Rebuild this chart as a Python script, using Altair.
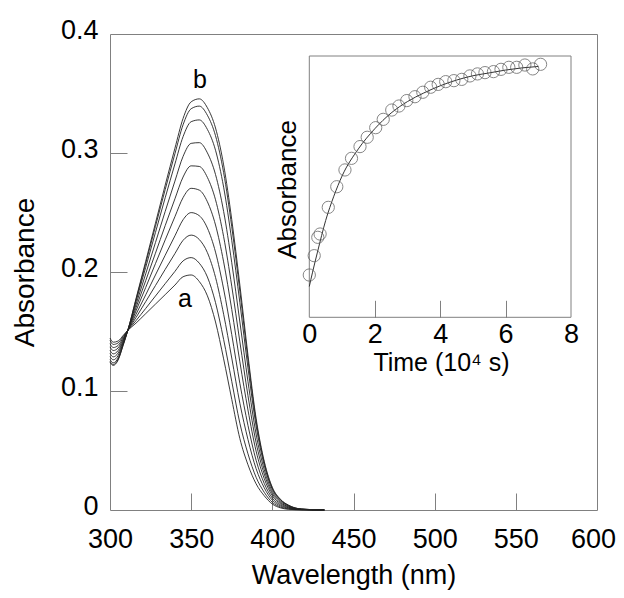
import altair as alt
import pandas as pd

# ---------------- main spectra ----------------
wavelength = [300, 302, 305, 308, 311, 316, 322, 328, 334, 340, 345, 350, 355,
              360, 365, 370, 375, 380, 385, 390, 395, 400, 405, 410, 418, 432]

s0 = [0.1445, 0.1410, 0.1420, 0.1465, 0.1510, 0.1570, 0.1650, 0.1730, 0.1810, 0.1890, 0.1960, 0.1975, 0.1920,
      0.1800, 0.1580, 0.1270, 0.0930, 0.0600, 0.0380, 0.0220, 0.0120, 0.0050, 0.0018, 0.0006, 0.0001, 0.0]
s1 = [0.1425, 0.1391, 0.1404, 0.1457, 0.1510, 0.1591, 0.1694, 0.1798, 0.1902, 0.2005, 0.2093, 0.2121, 0.2074,
      0.1958, 0.1743, 0.1433, 0.1081, 0.0729, 0.0472, 0.0275, 0.0149, 0.0064, 0.0025, 0.0009, 0.0002, 0.0]
s2 = [0.1398, 0.1365, 0.1383, 0.1445, 0.1510, 0.1617, 0.1751, 0.1886, 0.2022, 0.2155, 0.2266, 0.2310, 0.2273,
      0.2163, 0.1955, 0.1645, 0.1277, 0.0897, 0.0592, 0.0347, 0.0187, 0.0082, 0.0035, 0.0014, 0.0003, 0.0]
s3 = [0.1371, 0.1340, 0.1362, 0.1434, 0.1510, 0.1644, 0.1808, 0.1975, 0.2141, 0.2304, 0.2439, 0.2499, 0.2473,
      0.2369, 0.2167, 0.1857, 0.1474, 0.1064, 0.0711, 0.0418, 0.0224, 0.0100, 0.0044, 0.0018, 0.0004, 0.0]
s4 = [0.1342, 0.1312, 0.1340, 0.1422, 0.1510, 0.1673, 0.1870, 0.2070, 0.2270, 0.2465, 0.2625, 0.2703, 0.2688,
      0.2590, 0.2395, 0.2085, 0.1685, 0.1245, 0.0840, 0.0495, 0.0265, 0.0120, 0.0054, 0.0023, 0.0005, 0.0]
s5 = [0.1316, 0.1287, 0.1319, 0.1411, 0.1510, 0.1699, 0.1927, 0.2158, 0.2390, 0.2615, 0.2798, 0.2892, 0.2887,
      0.2795, 0.2607, 0.2297, 0.1881, 0.1413, 0.0960, 0.0567, 0.0303, 0.0138, 0.0063, 0.0027, 0.0005, 0.0]
s6 = [0.1289, 0.1262, 0.1298, 0.1400, 0.1510, 0.1726, 0.1984, 0.2247, 0.2509, 0.2764, 0.2971, 0.3081, 0.3087,
      0.3001, 0.2819, 0.2509, 0.2078, 0.1580, 0.1079, 0.0638, 0.0340, 0.0156, 0.0073, 0.0032, 0.0006, 0.0]
s7 = [0.1264, 0.1237, 0.1278, 0.1390, 0.1510, 0.1751, 0.2039, 0.2332, 0.2624, 0.2908, 0.3137, 0.3263, 0.3278,
      0.3198, 0.3023, 0.2713, 0.2266, 0.1742, 0.1194, 0.0707, 0.0377, 0.0174, 0.0082, 0.0036, 0.0007, 0.0]
s8 = [0.1248, 0.1223, 0.1266, 0.1383, 0.1510, 0.1767, 0.2072, 0.2383, 0.2693, 0.2994, 0.3237, 0.3372, 0.3394,
      0.3317, 0.3145, 0.2835, 0.2380, 0.1838, 0.1263, 0.0748, 0.0398, 0.0184, 0.0087, 0.0039, 0.0008, 0.0]
s9 = [0.1240, 0.1215, 0.1260, 0.1380, 0.1510, 0.1775, 0.2090, 0.2410, 0.2730, 0.3040, 0.3290, 0.3430, 0.3455,
      0.3380, 0.3210, 0.2900, 0.2440, 0.1890, 0.1300, 0.0770, 0.0410, 0.0190, 0.0090, 0.0040, 0.0008, 0.0]
spectra = [s0, s1, s2, s3, s4, s5, s6, s7, s8, s9]

label_text = ["a", "b"]
label_wl = [346.2, 355.4]
label_abs = [0.1706, 0.3546]

x_label_values = [300, 350, 400, 450, 500, 550, 600]
x_inner_ticks = [350, 400, 450, 500, 550]
y_label_values = [0, 0.1, 0.2, 0.3, 0.4]
y_inner_ticks = [0.1, 0.2, 0.3]

# ---------------- inset kinetics ----------------
time_pts = [0.0, 0.15, 0.26, 0.33, 0.58, 0.84, 1.09, 1.29, 1.55, 1.77, 2.03, 2.26, 2.52, 2.74, 2.98,
            3.23, 3.47, 3.71, 3.94, 4.17, 4.42, 4.66, 4.91, 5.14, 5.37, 5.63, 5.86, 6.10, 6.34, 6.59, 6.83, 7.07]
abs_pts = [0.198, 0.2115, 0.2243, 0.2266, 0.2452, 0.2596, 0.2713, 0.2794, 0.2876, 0.2941, 0.3008, 0.3066,
           0.3131, 0.3159, 0.3197, 0.3224, 0.3255, 0.3290, 0.3310, 0.3329, 0.3336, 0.3345, 0.3369, 0.3383,
           0.3392, 0.3399, 0.3415, 0.3429, 0.3429, 0.3445, 0.3418, 0.3450]
fit_t = [0, 0.1, 0.25, 0.5, 0.75, 1.0, 1.5, 2.0, 2.5, 3.0, 3.5, 4.0, 4.5, 5.0, 5.5, 6.0, 6.5, 7.0]
fit_a = [0.190, 0.200, 0.214, 0.236, 0.253, 0.267, 0.286, 0.300, 0.311, 0.319, 0.325, 0.330, 0.334,
         0.337, 0.339, 0.341, 0.3425, 0.3435]
inset_t_domain = [0, 8]
inset_a_domain = [0.1685, 0.3508]
inset_x_labels = [0, 2, 4, 6, 8]
inset_inner_ticks = [2, 4, 6]

# ---------------- tables ----------------
rows = []
for i, s in enumerate(spectra):
    for w, v in zip(wavelength, s):
        rows.append({"curve": f"s{i}", "wl": w, "abs": v})
spec_df = pd.DataFrame(rows)
lab_df = pd.DataFrame({"t": label_text, "wl": label_wl, "abs": label_abs})
pts_df = pd.DataFrame({"time": time_pts, "A": abs_pts})
fit_df = pd.DataFrame({"time": fit_t, "A": fit_a})
frame_df = pd.DataFrame({"t0": [inset_t_domain[0]], "t1": [inset_t_domain[1]],
                         "a0": [inset_a_domain[0]], "a1": [inset_a_domain[1]]})

W, H = 487, 476
GRAY = "#808080"
FONT = "Liberation Sans"

xs = alt.Scale(domain=[300, 600], nice=False, zero=False)
ys = alt.Scale(domain=[0, 0.4], nice=False, zero=False)

lines = alt.Chart(spec_df).mark_line(color="#222222", strokeWidth=0.9, interpolate="monotone").encode(
    x=alt.X("wl:Q", scale=xs, axis=alt.Axis(
        orient="bottom", values=x_label_values, ticks=False, domain=False, grid=False,
        labelFontSize=27, labelPadding=16, labelFlush=False, labelOverlap=False,
        labelOffset={"expr": "datum.value == 600 ? -4 : 0"},
        title="Wavelength (nm)", titleFontSize=27, titleX=243.5, titleY=73,
        titleBaseline="alphabetic")),
    y=alt.Y("abs:Q", scale=ys, axis=alt.Axis(
        orient="left", values=y_label_values, format="~g", ticks=False, domain=False, grid=False,
        labelFontSize=27, labelPadding=12, labelBaseline="alphabetic", labelOffset=4,
        labelOverlap=False,
        title="Absorbance", titleFontSize=28, titleX=-77, titleY=238,
        titleBaseline="alphabetic")),
    detail="curve:N",
)

labels = alt.Chart(lab_df).mark_text(fontSize=25, font=FONT, color="black", baseline="alphabetic",
                                     align="center").encode(
    x=alt.X("wl:Q", scale=xs, axis=alt.Axis(
        orient="top", offset=-H, values=x_inner_ticks, labels=False, domain=False, grid=False,
        ticks=True, tickSize=17, tickColor=GRAY, tickWidth=1, title=None)),
    y=alt.Y("abs:Q", scale=ys, axis=alt.Axis(
        orient="right", offset=-W, values=y_inner_ticks, labels=False, domain=False, grid=False,
        ticks=True, tickSize=17, tickColor=GRAY, tickWidth=1, title=None)),
    text="t:N",
)

main = alt.layer(lines, labels).resolve_axis(x="independent", y="independent")

ixs = alt.Scale(domain=inset_t_domain, range=[199.3, 461], nice=False, zero=False)
iys = alt.Scale(domain=inset_a_domain, range=[283.3, 22], nice=False, zero=False)

frame = alt.Chart(frame_df).mark_rect(fill="transparent", stroke=GRAY, strokeWidth=1).encode(
    x=alt.X("t0:Q", scale=ixs, axis=alt.Axis(
        orient="top", offset=-283.3, values=inset_inner_ticks, labels=False, domain=False, grid=False,
        ticks=True, tickSize=17, tickColor=GRAY, tickWidth=1, title=None)),
    x2="t1:Q",
    y=alt.Y("a0:Q", scale=iys, axis=None),
    y2="a1:Q",
)

fit = alt.Chart(fit_df).mark_line(color="#333333", strokeWidth=1, interpolate="monotone").encode(
    x=alt.X("time:Q", scale=ixs, axis=None),
    y=alt.Y("A:Q", scale=iys, axis=None),
)

pts = alt.Chart(pts_df).mark_point(shape="circle", filled=False, size=150, color="#555555",
                                   strokeWidth=1).encode(
    x=alt.X("time:Q", scale=ixs, axis=alt.Axis(
        orient="bottom", offset=-(H - 283.3), values=inset_x_labels, ticks=False, domain=False,
        grid=False, labelFontSize=27, labelPadding=4, labelFlush=False, labelOverlap=False,
        title="Time (10\u2074 s)", titleFontSize=25, titleX=331, titleY=53,
        titleBaseline="alphabetic")),
    y=alt.Y("A:Q", scale=iys, axis=alt.Axis(
        orient="left", offset=-199.3, labels=False, ticks=False, domain=False, grid=False,
        title="Absorbance", titleFontSize=26, titleX=-14, titleY=155,
        titleBaseline="alphabetic")),
)

inset = alt.layer(frame, fit, pts).resolve_axis(x="independent", y="independent")

chart = alt.layer(main, inset).resolve_scale(x="independent", y="independent").properties(
    width=W, height=H,
    autosize=alt.AutoSizeParams(type="none"),
    padding={"left": 102, "top": 26, "right": 19, "bottom": 80},
).configure_view(stroke=GRAY, strokeWidth=1).configure_axis(
    labelFont=FONT, titleFont=FONT, labelColor="black", titleColor="black",
    titleFontWeight="normal",
).configure_text(font=FONT)

chart.save("out.html", embed_options={"renderer": "svg", "actions": False})
